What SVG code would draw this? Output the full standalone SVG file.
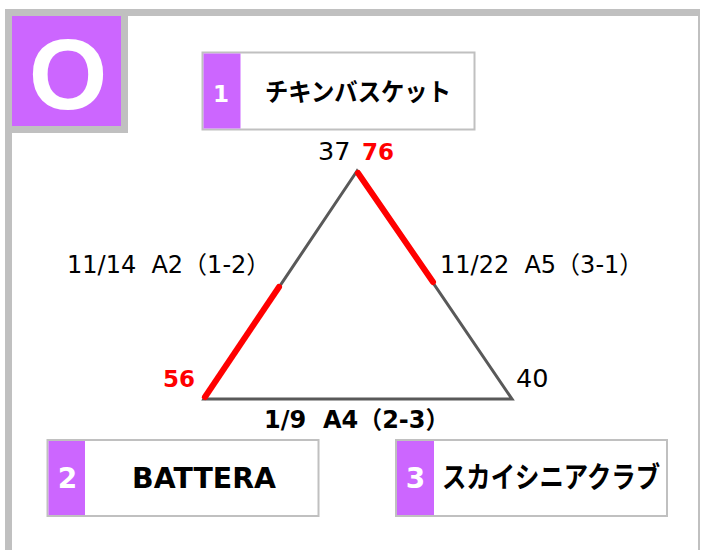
<svg xmlns="http://www.w3.org/2000/svg" width="703" height="550" viewBox="0 0 703 550">
<style>
.box{fill:#ffffff;stroke:#c0c0c0;stroke-width:2}
.tab{fill:#cc66ff}
.num{font-family:"DejaVu Sans",sans-serif;font-weight:bold;fill:#ffffff;text-anchor:middle}
.name{font-family:"DejaVu Sans","Noto Sans CJK JP",sans-serif;font-weight:bold;fill:#000000;text-anchor:middle}
.lbl{font-family:"DejaVu Sans","Noto Sans CJK JP",sans-serif;font-size:24px;fill:#000000;white-space:pre}
.vtx{font-family:"DejaVu Sans",sans-serif;font-size:25.5px;fill:#000000}
.red{font-family:"DejaVu Sans",sans-serif;font-size:23px;fill:#ff0000;font-weight:bold}
.edge{stroke:#595959;stroke-width:3;fill:none}
.hot{stroke:#ff0000;stroke-width:6;stroke-linecap:round;fill:none}
</style>
<rect x="0" y="0" width="703" height="550" fill="#ffffff"/>
<g id="frame">
<rect x="5" y="9" width="695" height="545" fill="#c0c0c0"/>
<rect x="12" y="16" width="686" height="540" fill="#ffffff"/>
</g>
<g id="group-label">
<rect x="12" y="16" width="116" height="117" fill="#c0c0c0"/>
<rect x="12" y="16" width="109" height="110" fill="#cc66ff"/>
<text x="68" y="108.5" font-family="Liberation Sans, Arial, sans-serif" font-weight="bold" font-size="101" fill="#ffffff" text-anchor="middle">O</text>
</g>
<g id="connectors">
<polygon class="edge" points="357,171 204,399 512,399"/>
<line class="hot" x1="205" y1="397" x2="279" y2="287"/>
<line class="hot" x1="358" y1="173" x2="433" y2="282"/>
</g>
<g id="edge-labels">
<text class="lbl" x="67" y="273">11/14  A2（1-2）</text>
<text class="lbl" x="440" y="273">11/22  A5（3-1）</text>
<text class="lbl" x="264" y="428" font-weight="bold">1/9  A4（2-3）</text>
</g>
<g id="vertex-labels">
<text class="vtx" x="318" y="160">37</text>
<text class="red" x="362" y="160">76</text>
<text class="red" x="163" y="387">56</text>
<text class="vtx" x="516" y="387">40</text>
</g>
<g id="node-1">
<rect class="box" x="202.5" y="52.5" width="272" height="77"/>
<rect class="tab" x="203.5" y="53.5" width="37" height="75"/>
<text class="num" x="221" y="101.5" font-size="23">1</text>
<text class="name" x="358" y="101" font-size="25" textLength="186" lengthAdjust="spacingAndGlyphs">チキンバスケット</text>
</g>
<g id="node-2">
<rect class="box" x="47.5" y="440" width="271" height="76"/>
<rect class="tab" x="48.5" y="441" width="36.5" height="74"/>
<text class="num" x="67.5" y="487.5" font-size="28">2</text>
<text class="name" x="204" y="487.5" font-size="29" textLength="144" lengthAdjust="spacingAndGlyphs">BATTERA</text>
</g>
<g id="node-3">
<rect class="box" x="396" y="440" width="271" height="76"/>
<rect class="tab" x="397" y="441" width="37" height="74"/>
<text class="num" x="415.5" y="487.5" font-size="28">3</text>
<text class="name" x="551" y="488" font-size="29" textLength="218" lengthAdjust="spacingAndGlyphs">スカイシニアクラブ</text>
</g>
</svg>
